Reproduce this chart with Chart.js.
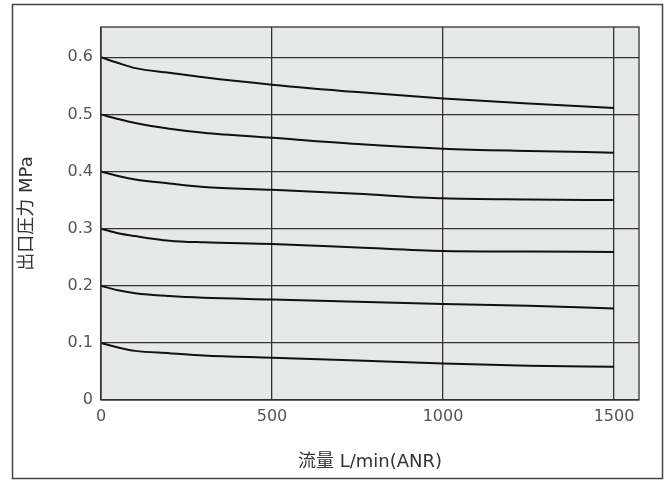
<!DOCTYPE html>
<html>
<head>
<meta charset="utf-8">
<style>
  html, body { margin: 0; padding: 0; background: #fff; }
  #wrap { width: 670px; height: 480px; }
</style>
<script src="https://cdn.jsdelivr.net/npm/chart.js@4"></script>
</head>
<body>
<div id="wrap"><canvas id="myChart" width="670" height="480"></canvas></div>
<script>
// flow L/min (ANR)
var flow = [0, 50, 100, 200, 300, 500, 750, 1000, 1250, 1500];
// outlet pressure curves (MPa), one per set pressure
var p06 = [0.600, 0.590, 0.581, 0.573, 0.565, 0.552, 0.539, 0.528, 0.519, 0.511];
var p05 = [0.500, 0.492, 0.485, 0.475, 0.468, 0.459, 0.448, 0.440, 0.436, 0.433];
var p04 = [0.400, 0.392, 0.386, 0.379, 0.373, 0.368, 0.361, 0.353, 0.351, 0.350];
var p03 = [0.300, 0.292, 0.287, 0.279, 0.276, 0.273, 0.267, 0.261, 0.260, 0.259];
var p02 = [0.200, 0.192, 0.187, 0.182, 0.179, 0.176, 0.172, 0.168, 0.165, 0.160];
var p01 = [0.100, 0.092, 0.086, 0.082, 0.078, 0.074, 0.069, 0.064, 0.060, 0.058];
var xTicks = [0, 500, 1000, 1500];
var yTicks = [0, 0.1, 0.2, 0.3, 0.4, 0.5, 0.6];

var FONT = "'DejaVu Sans', 'Noto Sans CJK JP', sans-serif";

function pts(ys) {
  return flow.map(function(f, i) { return { x: f, y: ys[i] }; });
}

var frame = {
  id: 'frame',
  beforeDraw: function(chart) {
    var c = chart.ctx, a = chart.chartArea;
    c.save();
    c.fillStyle = '#e7e8e8';
    c.fillRect(a.left, a.top, a.right - a.left, a.bottom - a.top);
    c.restore();
  },
  afterDraw: function(chart) {
    var c = chart.ctx, a = chart.chartArea;
    c.save();
    c.strokeStyle = '#333';
    c.lineWidth = 1.3;
    c.strokeRect(a.left, a.top, a.right - a.left, a.bottom - a.top);
    c.strokeStyle = '#444';
    c.lineWidth = 1.5;
    c.strokeRect(12.5, 4.5, 650, 474);
    c.restore();
  }
};

var sets = [p06, p05, p04, p03, p02, p01];

new Chart(document.getElementById('myChart').getContext('2d'), {
  type: 'line',
  data: {
    datasets: sets.map(function(s) {
      return {
        data: pts(s),
        borderColor: '#111',
        borderWidth: 2,
        pointRadius: 0,
        fill: false,
        cubicInterpolationMode: 'monotone'
      };
    })
  },
  options: {
    responsive: false,
    animation: false,
    layout: { padding: { top: 27, right: 31, bottom: 0, left: 0 } },
    plugins: { legend: { display: false }, tooltip: { enabled: false } },
    scales: {
      x: {
        type: 'linear',
        min: 0,
        max: 1573,
        afterFit: function(s) { s.height = 80; },
        afterBuildTicks: function(s) {
          s.ticks = xTicks.map(function(v) { return { value: v }; });
        },
        ticks: {
          color: '#555',
          font: { family: FONT, size: 16 },
          padding: 7,
          maxRotation: 0,
          callback: function(v) { return String(v); }
        },
        grid: { color: '#333', lineWidth: 1.3, drawTicks: false },
        border: { display: false },
        title: {
          display: true,
          text: '流量 L/min(ANR)',
          color: '#333',
          font: { family: FONT, size: 18 },
          padding: { top: 0, bottom: 7 }
        }
      },
      y: {
        min: 0,
        max: 0.653,
        afterFit: function(s) { s.width = 101; },
        afterBuildTicks: function(s) {
          s.ticks = yTicks.map(function(v) { return { value: v }; });
        },
        ticks: {
          color: '#555',
          font: { family: FONT, size: 16 },
          padding: 8,
          callback: function(v) { return v === 0 ? '0' : v.toFixed(1); }
        },
        grid: { color: '#333', lineWidth: 1.3, drawTicks: false },
        border: { display: false },
        title: {
          display: true,
          text: '出口圧力 MPa',
          color: '#333',
          font: { family: FONT, size: 18 },
          padding: { top: 17, bottom: 0 }
        }
      }
    }
  },
  plugins: [frame]
});
</script>
</body>
</html>
